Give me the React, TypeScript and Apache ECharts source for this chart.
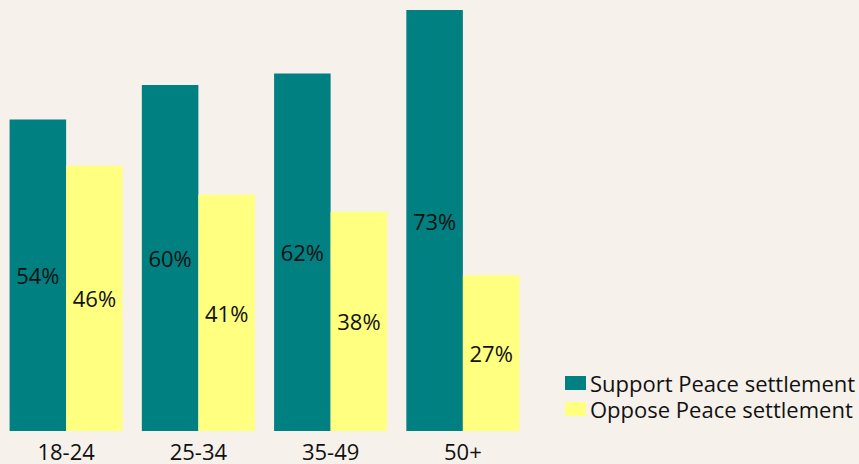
import React, { useEffect, useRef } from "react";
import * as echarts from "echarts";

const categories = ["18-24", "25-34", "35-49", "50+"];
const supportValues = [54, 60, 62, 73];
const opposeValues = [46, 41, 38, 27];
const seriesNames = ["Support Peace settlement", "Oppose Peace settlement"];

const FONT = "'Open Sans', sans-serif";

export default function App() {
  const ref = useRef<HTMLDivElement>(null);
  useEffect(() => {
    if (!ref.current) return;
    const chart = echarts.init(ref.current, undefined, { renderer: "svg" });
    const label = {
      show: true,
      position: "inside",
      formatter: "{c}%",
      fontSize: 22,
      fontFamily: FONT,
      color: "#111",
    };
    chart.setOption({
      animation: false,
      backgroundColor: "#f6f1eb",
      textStyle: { fontFamily: FONT },
      grid: { left: 0, right: 330, top: 10, bottom: 33, containLabel: false },
      legend: {
        orient: "vertical",
        left: 565,
        top: 372,
        padding: 0,
        itemWidth: 21,
        itemHeight: 14,
        itemGap: 4,
        icon: "rect",
        textStyle: { fontSize: 22, lineHeight: 22, fontFamily: FONT, color: "#111", padding: [0, 0, 0, -1] },
        data: seriesNames,
      },
      xAxis: {
        type: "category",
        data: categories,
        axisLine: { show: false },
        axisTick: { show: false },
        axisLabel: { fontSize: 22, lineHeight: 22, fontFamily: FONT, color: "#111", margin: 9 },
      },
      yAxis: {
        type: "value",
        min: 0,
        max: 73,
        show: false,
        splitLine: { show: false },
      },
      series: [
        {
          name: seriesNames[0],
          type: "bar",
          data: supportValues,
          barGap: "0%",
          barCategoryGap: "14.5%",
          itemStyle: { color: "#008080" },
          label,
        },
        {
          name: seriesNames[1],
          type: "bar",
          data: opposeValues,
          barGap: "0%",
          barCategoryGap: "14.5%",
          itemStyle: { color: "#ffff80" },
          label,
        },
      ],
    });
    return () => chart.dispose();
  }, []);
  return (
    <div
      ref={ref}
      style={{ position: "fixed", left: 0, top: 0, width: 859, height: 464 }}
    />
  );
}
